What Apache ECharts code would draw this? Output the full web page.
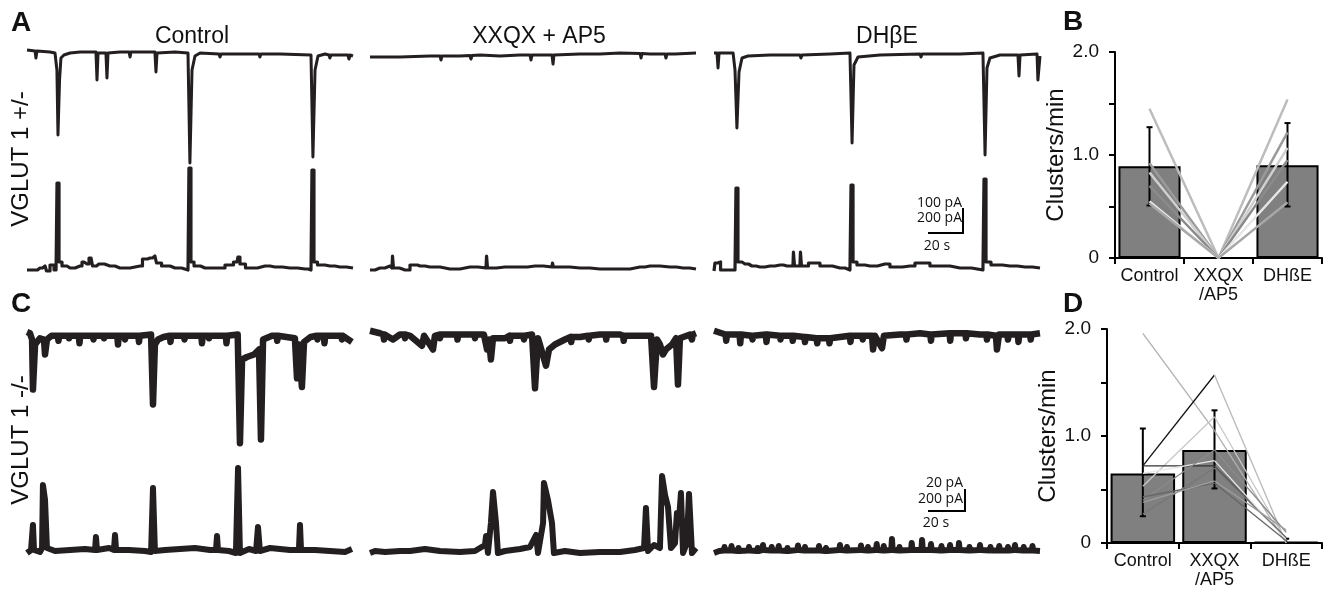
<!DOCTYPE html>
<html>
<head>
<meta charset="utf-8">
<script src="https://cdn.jsdelivr.net/npm/echarts@6/dist/echarts.min.js"></script>
<style>
  html, body { margin: 0; padding: 0; background: #fff; }
  #chart { width: 1331px; height: 593px; }
</style>
</head>
<body>
<div id="chart"></div>
<script>
// ---- traces: [time s, current pA] ----
// VGLUT1 +/-  (top = current, bottom = integrated)
const traceA1Top = [[0,12],[4.6,8],[5.1,-20],[5.7,8],[13.1,4],[16,0],[17.1,-68],[17.7,-328],[18.6,-108],[19.4,-20],[21.1,-8],[24.6,0],[30.3,4],[39.4,4],[40,-108],[40.6,0],[45.1,0],[45.7,-100],[46.3,0],[53.1,4],[58.3,4],[58.9,-16],[59.4,4],[73.1,4],[73.7,-76],[74.3,0],[84.6,4],[92,0],[93.1,-440],[94.3,-68],[96,-12],[98.9,0],[109.7,-4],[110.3,-16],[110.9,-4],[121.7,-4],[132.6,-4],[133.1,-16],[133.7,-4],[144.6,-4],[162.3,-8],[163.4,-416],[164.6,-68],[166.3,-12],[170.3,-4],[172.6,-8],[173.1,-20],[173.7,-8],[178.9,-8],[183.4,-8],[184,-24],[184.6,-8],[186.3,-12]];
const traceA1Bot = [[0,8],[4.6,8],[7.4,24],[10.3,40],[12,0],[14.3,48],[16.6,8],[17.7,704],[18.9,72],[21.1,40],[24.6,24],[30.3,40],[32.6,72],[34.3,56],[36.6,104],[38.3,40],[41.1,56],[47.4,40],[53.1,24],[64.6,40],[67.4,96],[70.3,104],[73.1,120],[74.9,64],[78.9,40],[84.6,24],[92,8],[93.1,824],[94.3,72],[96.6,40],[101.7,24],[110.3,24],[116,48],[120,72],[121.1,112],[122.3,56],[127.4,24],[136,40],[141.7,32],[150.3,24],[158.9,16],[162.3,8],[163.4,808],[164.6,72],[167.4,48],[173.1,40],[178.9,32],[186.3,24]];
const traceA2Top = [[0,-16],[17.1,-16],[34.3,-12],[40,-12],[40.6,-28],[41.1,-12],[51.4,-12],[57.1,-10],[57.7,-24],[58.3,-10],[62.9,-8],[74.3,-12],[85.7,-8],[91.4,-8],[92,-28],[92.6,-8],[97.1,-8],[104,-8],[104.6,-44],[105.1,-8],[120,-4],[131.4,-4],[142.9,0],[154.3,-2],[154.9,-20],[155.4,-2],[160,-4],[168.6,-4],[169.1,-20],[169.7,-4],[174.3,-4],[186.3,0]];
const traceA2Bot = [[0,8],[5.7,24],[11.4,40],[12.6,24],[13.1,120],[13.7,24],[20,8],[25.7,48],[28.6,40],[34.3,32],[45.7,16],[57.1,32],[66.3,24],[66.9,120],[67.4,24],[77.1,32],[85.7,32],[94.3,40],[104,32],[104.6,64],[105.1,32],[108.6,32],[120,24],[131.4,16],[142.9,16],[154.3,32],[160,40],[171.4,32],[178.9,24],[186.3,16]];
const traceA3Top = [[0,0],[1.7,0],[2.3,-60],[2.9,0],[10.9,0],[12,-68],[13.1,-300],[14.3,-76],[16,-20],[19.4,-12],[32,-8],[49.1,-8],[49.7,-20],[50.3,-8],[66.3,-4],[77.7,0],[78.9,-360],[80,-48],[82.3,-16],[94.9,-8],[117.7,-4],[118.3,-16],[118.9,-4],[140.6,-4],[153.7,0],[154.9,-408],[156,-60],[157.7,-20],[163.4,-8],[173.7,-8],[174.3,-92],[174.9,-8],[184.6,-4],[185.1,-108],[186.3,-12]];
const traceA3Bot = [[0,0],[1.1,64],[2.9,72],[4.6,8],[12,8],[13.1,664],[14.3,72],[17.7,56],[21.7,40],[26.3,32],[32,40],[37.7,48],[41.7,40],[45.1,40],[45.7,152],[46.3,40],[49.1,40],[49.7,152],[50.3,40],[57.7,64],[63.4,40],[72,24],[77.7,8],[78.9,688],[80,72],[83.4,48],[89.1,40],[97.7,56],[103.4,32],[112,40],[117.7,64],[129.1,40],[140.6,24],[153.7,8],[154.9,736],[156,72],[160.6,48],[169.1,40],[177.7,32],[186.3,24]];
// VGLUT1 -/-
const traceC1Top = [[0,0],[1.7,-1],[2.9,-6],[3.4,-46],[4.6,-10],[7.4,-5],[9.7,-6],[10.3,-18],[11.4,-6],[14,-3],[17.6,-3],[18,-7],[18.4,-3],[23.6,-3],[24,-5],[24.4,-3],[29.6,-3],[30,-9],[30.4,-3],[37.6,-3],[38,-6],[38.4,-3],[43.6,-3],[44,-5],[44.4,-3],[51.6,-3],[52,-10],[52.4,-3],[55.6,-3],[56,-6],[56.4,-3],[63.6,-3],[64,-8],[64.4,-3],[70.9,-2],[72,-58],[73.1,-10],[74.9,-6],[78,-4],[81.6,-3],[82,-8],[82.4,-3],[89.6,-3],[90,-6],[90.4,-3],[99.6,-3],[100,-9],[100.4,-3],[103.6,-3],[104,-5],[104.4,-3],[113.6,-3],[114,-9],[114.4,-3],[120.4,-2],[121.7,-89],[122.9,-22],[125.7,-20],[129.7,-18],[132.6,-14],[133.7,-86],[134.9,-6],[140,-3],[142.6,-3],[143,-7],[143.4,-3],[153.1,-5],[154.3,-37],[155.4,-10],[157.1,-44],[158.3,-8],[162,-4],[165.6,-3],[166,-6],[166.4,-3],[169.6,-3],[170,-9],[170.4,-3],[179.6,-3],[180,-6],[180.4,-3],[185.7,-8]];
const traceC1Bot = [[0,0],[2.3,24],[2.9,40],[3.4,224],[4,24],[7.4,8],[8.6,40],[9.1,544],[10.3,424],[11.4,40],[16,16],[24.6,24],[33.1,32],[38.9,24],[39.4,128],[40,24],[46.9,40],[49.7,24],[50.3,144],[50.9,24],[58.3,24],[67.4,16],[70.9,8],[72,520],[73.1,16],[78.9,24],[87.4,32],[96,40],[104.6,24],[108,24],[108.6,136],[109.1,24],[115.4,16],[119.4,0],[120.6,680],[121.7,0],[126.9,32],[130.9,16],[132,208],[133.1,16],[138.9,40],[144.6,32],[150.3,24],[155.4,24],[156,224],[156.6,24],[164.6,24],[173.1,16],[181.7,8],[185.7,32]];
const traceC2Top = [[0,1],[5.7,-1],[7.6,-2],[8,-6],[8.4,-2],[13.1,-6],[17.1,-2],[19.6,-2],[20,-5],[20.4,-2],[22.9,-3],[29.7,-11],[30.9,-3],[36,-14],[37.1,-3],[39.6,-2],[40,-5],[40.4,-2],[49.6,-2],[50,-6],[50.4,-2],[59.6,-2],[60,-5],[60.4,-2],[65.1,-2],[66.9,-14],[68,-6],[69.1,-22],[70.3,-5],[77.1,-5],[79.6,-3],[80,-7],[80.4,-3],[85.7,-3],[87.6,-3],[88,-6],[88.4,-3],[92.6,-2],[94.3,-45],[96,-5],[100.6,-27],[102.3,-14],[105.7,-10],[111.4,-6],[114.6,-4],[115,-8],[115.4,-4],[120,-4],[124.6,-3],[125,-6],[125.4,-3],[131.4,-2],[134.6,-2],[135,-6],[135.4,-2],[142.9,-2],[144.6,-3],[145,-7],[145.4,-3],[154.3,-3],[160.6,-3],[162.3,-44],[164,-6],[165.7,-10],[167.4,-18],[169.1,-14],[172.6,-10],[174.9,-5],[176,-42],[177.1,-5],[182.9,-2],[183.6,-2],[184,-6],[184.4,-2],[186.3,-1]];
const traceC2Bot = [[0,0],[2.9,16],[8.6,8],[17.1,16],[22.9,16],[31.4,32],[40,16],[51.4,8],[60,16],[65.7,64],[66.3,136],[67.4,0],[69.1,240],[70.3,488],[72,240],[73.1,0],[77.1,16],[85.7,32],[91.4,48],[94.9,144],[96,0],[98.9,240],[99.4,560],[101.7,424],[104,240],[105.1,0],[111.4,16],[120,0],[131.4,8],[142.9,8],[151.4,24],[156.6,40],[157.7,360],[158.9,16],[162.3,64],[165.7,40],[166.9,616],[168.6,464],[170.3,368],[172,40],[174.3,80],[175.4,320],[176.6,264],[177.7,480],[178.9,0],[181.1,80],[182.3,472],[184,0],[186.3,40]];
const traceC3Top = [[0,1],[6.6,-2],[7,-7],[7.4,-2],[14.6,-2],[15,-9],[15.4,-2],[21.6,-3],[22,-6],[22.4,-3],[29.6,-2],[30,-8],[30.4,-2],[37.6,-3],[38,-6],[38.4,-3],[44.6,-3],[45,-7],[45.4,-3],[51.6,-4],[52,-8],[52.4,-4],[58.6,-5],[59,-9],[59.4,-5],[65.6,-5],[66,-9],[66.4,-5],[72,-4],[77.6,-3],[78,-8],[78.4,-3],[84.6,-3],[85,-6],[85.4,-3],[90.3,-3],[90.9,-14],[92,-3],[96,-13],[97.1,-3],[106.3,-2],[109.6,-2],[110,-6],[110.4,-2],[117.7,-1],[123.6,-2],[124,-7],[124.4,-2],[134.6,-1],[135,-7],[135.4,-1],[143.6,-1],[144,-5],[144.4,-1],[152,-2],[155.6,-2],[156,-6],[156.4,-2],[161.1,-3],[161.7,-14],[162.9,-2],[167.6,-2],[168,-6],[168.4,-2],[173.6,-2],[174,-8],[174.4,-2],[180.6,-2],[181,-6],[181.4,-2],[186.3,-1]];
const traceC3Bot = [[0,0],[3,16],[5.6,20],[6,48],[6.4,20],[9.6,20],[10,56],[10.4,20],[13.6,16],[14,40],[14.4,16],[19.6,20],[20,48],[20.4,20],[24.6,16],[25,40],[25.4,16],[27.6,24],[28,64],[28.4,24],[32.6,20],[33,48],[33.4,20],[36.6,20],[37,56],[37.4,20],[41.6,16],[42,40],[42.4,16],[47.6,24],[48,60],[48.4,24],[51.6,20],[52,48],[52.4,20],[59.6,20],[60,56],[60.4,20],[63.6,16],[64,40],[64.4,16],[71.6,24],[72,64],[72.4,24],[75.6,20],[76,48],[76.4,20],[83.6,24],[84,60],[84.4,24],[87.6,20],[88,48],[88.4,20],[92.6,24],[93,72],[93.4,24],[96.6,20],[97,56],[97.4,20],[101.3,24],[101.7,112],[102.1,24],[105.6,20],[106,48],[106.4,20],[112.6,24],[113,80],[113.4,24],[118.5,24],[118.9,104],[119.3,24],[123.6,24],[124,72],[124.4,24],[129.6,20],[130,56],[130.4,20],[134.5,24],[134.9,64],[135.3,24],[139.6,24],[140,80],[140.4,24],[145.6,20],[146,48],[146.4,20],[151.6,24],[152,64],[152.4,24],[157.6,20],[158,48],[158.4,20],[162.6,20],[163,56],[163.4,20],[167.6,20],[168,48],[168.4,20],[171.6,24],[172,64],[172.4,24],[176.6,20],[177,48],[177.4,20],[181.6,20],[182,56],[182.4,20],[186.3,16]];

// ---- bar panels ----
const barCats = ['Control', 'XXQX\n/AP5', 'DHßE'];
const bMeans = [0.89, 0, 0.90];
const bErrLo = [0.51, null, 0.50];
const bErrHi = [1.27, null, 1.31];
const bCtrl = [1.45, 0.92, 0.83, 0.70, 0.55, 0.53];
const bXxqx = [0, 0, 0, 0, 0, 0];
const bDhbe = [1.54, 1.22, 1.07, 0.95, 0.74, 0.54];
const bColors = ['#bdbdbd', '#9a9a9a', '#cfcfcf', '#8a8a8a', '#e6e6e6', '#a8a8a8'];

const dMeans = [0.65, 0.87, 0.01];
const dErrLo = [0.25, 0.51, 0];
const dErrHi = [1.07, 1.24, 0.04];
const dCtrl = [1.96, 0.72, 0.53, 0.72, 0.65, 0.40, 0.43, 0.27, 0.38];
const dXxqx = [1.05, 1.57, 1.18, 0.72, 0.77, 0.87, 0.56, 0.70, 0.58];
const dDhbe = [0.00, 0.00, 0.02, 0.05, 0.03, 0.10, 0.02, 0.05, 0.12];
const dColor1 = ['#b0b0b0', '#111111', '#c8c8c8', '#333333', '#e8e8e8', '#8a8a8a', '#666666', '#777777', '#9d9d9d'];
const dColor2 = ['#b0b0b0', '#b8b8b8', '#c8c8c8', '#555555', '#e8e8e8', '#8a8a8a', '#666666', '#777777', '#9d9d9d'];

const ink = '#231f20';
const sans = '"Liberation Sans", Arial, sans-serif';

const chart = echarts.init(document.getElementById('chart'));

const colX = [27, 370, 714];
const colW = 326;
const rows = [
	{ top: 48, height: 125, min: -480, max: 20, lw: 3, step: false, traces: [traceA1Top, traceA2Top, traceA3Top] },
	{ top: 161, height: 115, min: -40, max: 880, lw: 3.2, step: 'middle', traces: [traceA1Bot, traceA2Bot, traceA3Bot] },
	{ top: 322, height: 135, min: -100, max: 8, lw: 6.5, step: false, traces: [traceC1Top, traceC2Top, traceC3Top] },
	{ top: 463, height: 95, min: -40, max: 720, lw: 6, step: false, traces: [traceC1Bot, traceC2Bot, traceC3Bot] }
];

const grid = [], xAxis = [], yAxis = [], series = [];
rows.forEach(r => {
	colX.forEach((x0, c) => {
		const i = grid.length;
		grid.push({ left: x0, top: r.top, width: colW, height: r.height });
		xAxis.push({ gridIndex: i, type: 'value', min: 0, max: 186.3, show: false });
		yAxis.push({ gridIndex: i, type: 'value', min: r.min, max: r.max, show: false });
		series.push({
			type: 'line', xAxisIndex: i, yAxisIndex: i, data: r.traces[c],
			symbol: 'none', silent: true, clip: false, step: r.step,
			lineStyle: { color: ink, width: r.lw, join: 'round' }
		});
	});
});

function addBarPanel(g, means, lo, hi, pairs) {
	const i = grid.length;
	grid.push(g);
	xAxis.push({
		gridIndex: i, type: 'category', data: barCats,
		axisLine: { lineStyle: { color: '#000', width: 2 } },
		axisTick: { show: true, inside: false, length: 6, lineStyle: { color: '#000', width: 2 } },
		axisLabel: { interval: 0, color: '#111', fontSize: 18, fontFamily: sans, margin: 9, lineHeight: 19 }
	});
	yAxis.push({
		gridIndex: i, type: 'value', min: 0, max: 2, interval: 0.5,
		name: 'Clusters/min', nameLocation: 'middle', nameGap: 47, nameRotate: 90,
		nameTextStyle: { fontSize: 24, fontFamily: sans, color: '#111' },
		axisLine: { show: true, lineStyle: { color: '#000', width: 2 } },
		axisTick: { show: true, inside: false, length: 6, lineStyle: { color: '#000', width: 2 } },
		axisLabel: {
			color: '#111', fontSize: 19, fontFamily: sans, margin: 16,
			formatter: v => v === 0 ? '0' : (v === 1 ? '1.0' : (v === 2 ? '2.0' : ''))
		},
		splitLine: { show: false }
	});
	series.push({
		type: 'bar', xAxisIndex: i, yAxisIndex: i, data: means, barWidth: '90%', z: 2,
		itemStyle: { color: '#808080', borderColor: '#000', borderWidth: 2 }
	});
	const errData = [];
	means.forEach((m, k) => { if (lo[k] !== null) errData.push([k, lo[k], hi[k]]); });
	series.push({
		type: 'custom', xAxisIndex: i, yAxisIndex: i, z: 3, data: errData,
		renderItem: (params, api) => {
			const a = api.coord([api.value(0), api.value(1)]);
			const b = api.coord([api.value(0), api.value(2)]);
			const st = { stroke: '#000', lineWidth: 2 };
			return { type: 'group', children: [
				{ type: 'line', shape: { x1: a[0], y1: a[1], x2: b[0], y2: b[1] }, style: st },
				{ type: 'line', shape: { x1: a[0] - 3, y1: a[1], x2: a[0] + 3, y2: a[1] }, style: st },
				{ type: 'line', shape: { x1: b[0] - 3, y1: b[1], x2: b[0] + 3, y2: b[1] }, style: st }
			] };
		}
	});
	pairs.forEach(p => series.push({
		type: 'line', xAxisIndex: i, yAxisIndex: i, data: p.data, z: 4,
		symbol: 'none', silent: true, connectNulls: false,
		lineStyle: { color: p.color, width: p.width }
	}));
}

const bPairs = bCtrl.map((v, k) => ({ data: [v, bXxqx[k], bDhbe[k]], color: bColors[k], width: 2.5 }));
addBarPanel({ left: 1115, top: 52, width: 207, height: 206 }, bMeans, bErrLo, bErrHi, bPairs);

const dPairs = [];
dCtrl.forEach((v, k) => {
	dPairs.push({ data: [v, dXxqx[k], '-'], color: dColor1[k], width: 1.3 });
	dPairs.push({ data: ['-', dXxqx[k], dDhbe[k]], color: dColor2[k], width: 1.3 });
});
addBarPanel({ left: 1107, top: 329, width: 215, height: 214 }, dMeans, dErrLo, dErrHi, dPairs);

function txt(text, x, y, font, align, rot) {
	return {
		type: 'text', x: x, y: y, silent: true, rotation: rot || 0,
		style: { text: text, font: font, fill: '#111', align: align || 'center', verticalAlign: 'middle' }
	};
}
const letterFont = 'bold 28px ' + sans;
const titleFont = '23px ' + sans;
const smallFont = '14px "Open Sans", sans-serif';

const graphic = [
	txt('A', 21, 23, letterFont),
	txt('B', 1073, 22, letterFont),
	txt('C', 21, 304, letterFont),
	txt('D', 1073, 304, letterFont),
	txt('Control', 192, 37, titleFont),
	txt('XXQX + AP5', 539, 37, titleFont),
	txt('DH\u03B2E', 887, 37, titleFont),
	txt('VGLUT 1 +/-', 21, 159, '24px ' + sans, 'center', Math.PI / 2),
	txt('VGLUT 1 -/-', 21, 440, '24px ' + sans, 'center', Math.PI / 2),
	// scale bars
	{ type: 'polyline', silent: true, shape: { points: [[928, 233], [963, 233], [963, 208]] }, style: { stroke: '#000', lineWidth: 2, fill: null } },
	txt('100 pA', 962, 203, smallFont, 'right'),
	txt('200 pA', 962, 218, smallFont, 'right'),
	txt('20 s', 937, 246, smallFont),
	{ type: 'polyline', silent: true, shape: { points: [[928, 511], [965, 511], [965, 489]] }, style: { stroke: '#000', lineWidth: 2, fill: null } },
	txt('20 pA', 963, 483, smallFont, 'right'),
	txt('200 pA', 963, 499, smallFont, 'right'),
	txt('20 s', 936, 523, smallFont)
];

chart.setOption({
	animation: false,
	backgroundColor: '#fff',
	grid: grid,
	xAxis: xAxis,
	yAxis: yAxis,
	series: series,
	graphic: graphic
});
</script>
</body>
</html>
